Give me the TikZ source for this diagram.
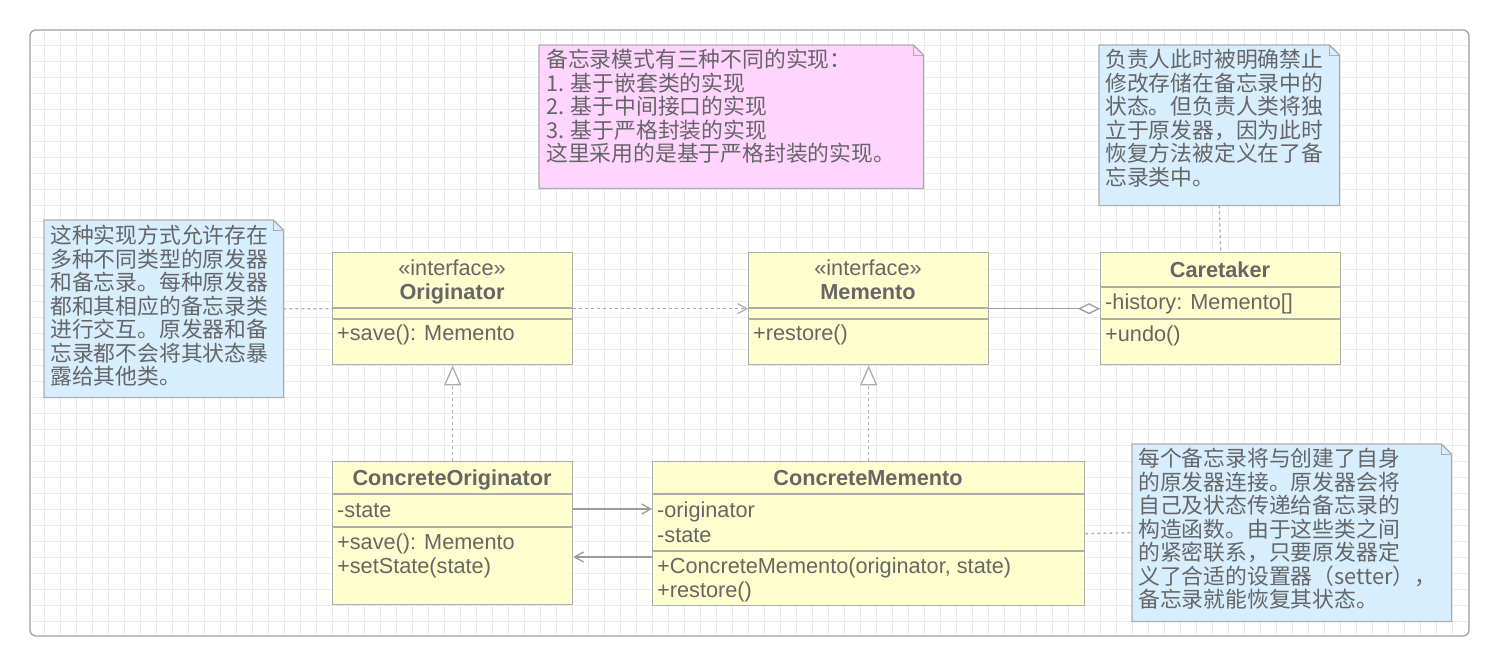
\documentclass[tikz,border=0pt]{standalone}
\usepackage{fontspec}
\setmainfont{Liberation Sans}
\newfontfamily\cjk{Noto Sans CJK SC}
\usetikzlibrary{arrows.meta,backgrounds}

\definecolor{boxfill}{HTML}{FEFECE}
\definecolor{boxline}{HTML}{ADADAD}
\definecolor{txt}{HTML}{666666}
\definecolor{noteblue}{HTML}{D7EEFF}
\definecolor{notepink}{HTML}{FFD5FF}
\definecolor{gridline}{HTML}{EBEBEB}
\definecolor{framegray}{HTML}{A0A0A0}

\begin{document}
\begin{tikzpicture}[x=1pt, y=-1pt,
  classbox/.style={rectangle, draw=boxline, fill=boxfill, line width=1.3pt, anchor=north west, inner sep=0pt},
  member/.style={anchor=west, text=txt, inner sep=0pt, text height=15.6pt, text depth=0pt, font=\fontsize{21.7}{24}\selectfont},
  stereo/.style={member, anchor=center},
  classname/.style={stereo, font=\bfseries\fontsize{21.7}{24}\selectfont},
  note/.style={rectangle, anchor=north west, inner sep=0pt},
  notetext/.style={anchor=north west, align=left, inner sep=0pt, text=txt, font=\cjk\fontsize{21.8}{23.5}\selectfont},
  dotline/.style={draw=boxline, line width=1.3pt, dash pattern=on 3pt off 3pt},
  solidline/.style={draw=boxline!90!black, line width=1.3pt},
  barb/.style={-{Straight Barb[length=9pt, width=10pt]}}
]
\useasboundingbox (0,0) rectangle (1499,667);

% notes
\node[note, minimum width=384, minimum height=143] (modesnote) at (539,45) {};
\node[notetext] (modestext) at ([xshift=7pt, yshift=-4pt]modesnote.north west)
  {备忘录模式有三种不同的实现：\\1. 基于嵌套类的实现\\2. 基于中间接口的实现\\3. 基于严格封装的实现\\这里采用的是基于严格封装的实现。};

\node[note, minimum width=240, minimum height=160] (caretakernote) at (1099,45) {};
\node[notetext] (caretakertext) at ([xshift=6pt, yshift=-4pt]caretakernote.north west)
  {负责人此时被明确禁止\\修改存储在备忘录中的\\状态。但负责人类将独\\立于原发器，因为此时\\恢复方法被定义在了备\\忘录类中。};

\node[note, minimum width=239, minimum height=177] (orignote) at (44,220) {};
\node[notetext] (origtext) at ([xshift=6pt, yshift=-5pt]orignote.north west)
  {这种实现方式允许存在\\多种不同类型的原发器\\和备忘录。每种原发器\\都和其相应的备忘录类\\进行交互。原发器和备\\忘录都不会将其状态暴\\露给其他类。};

\node[note, minimum width=319, minimum height=177] (memnote) at (1132,444) {};
\node[notetext] (memtext) at ([xshift=6pt, yshift=-4pt]memnote.north west)
  {每个备忘录将与创建了自身\\的原发器连接。原发器会将\\自己及状态传递给备忘录的\\构造函数。由于这些类之间\\的紧密联系，只要原发器定\\义了合适的设置器（setter），\\备忘录就能恢复其状态。};

% classes
\node[classbox, minimum width=240, minimum height=112] (originator) at (332,252) {};
\draw[boxline, line width=1.3pt] (originator.west |- 0,308) -- (originator.east |- 0,308);
\draw[boxline, line width=1.3pt] (originator.west |- 0,319) -- (originator.east |- 0,319);
\node[stereo] (orig stereo) at (452,268) {«interface»};
\node[classname] (orig name) at (452,292) {Originator};
\node[member] (orig save) at (337,333) {+save(): Memento};

\node[classbox, minimum width=240, minimum height=112] (memento) at (748,252) {};
\draw[boxline, line width=1.3pt] (memento.west |- 0,308) -- (memento.east |- 0,308);
\draw[boxline, line width=1.3pt] (memento.west |- 0,319) -- (memento.east |- 0,319);
\node[stereo] (mem stereo) at (868,268) {«interface»};
\node[classname] (mem name) at (868,292) {Memento};
\node[member] (mem restore) at (753,333) {+restore()};

\node[classbox, minimum width=240, minimum height=112] (caretaker) at (1100,252) {};
\draw[boxline, line width=1.3pt] (caretaker.west |- 0,287) -- (caretaker.east |- 0,287);
\draw[boxline, line width=1.3pt] (caretaker.west |- 0,319) -- (caretaker.east |- 0,319);
\node[classname] (care name) at (1220,270) {Caretaker};
\node[member] (care history) at (1105,302) {-history: Memento[]};
\node[member] (care undo) at (1105,334) {+undo()};

\node[classbox, minimum width=240, minimum height=143] (concorig) at (332,461) {};
\draw[boxline, line width=1.3pt] (concorig.west |- 0,494) -- (concorig.east |- 0,494);
\draw[boxline, line width=1.3pt] (concorig.west |- 0,527) -- (concorig.east |- 0,527);
\node[classname] (corig name) at (452,478) {ConcreteOriginator};
\node[member] (corig state) at (337,510) {-state};
\node[member] (corig save) at (337,542) {+save(): Memento};
\node[member] (corig set) at (337,566) {+setState(state)};

\node[classbox, minimum width=432, minimum height=144] (concmem) at (652,461) {};
\draw[boxline, line width=1.3pt] (concmem.west |- 0,494) -- (concmem.east |- 0,494);
\draw[boxline, line width=1.3pt] (concmem.west |- 0,551) -- (concmem.east |- 0,551);
\node[classname] (cmem name) at (868,478) {ConcreteMemento};
\node[member] (cmem orig) at (657,510) {-originator};
\node[member] (cmem state) at (657,535) {-state};
\node[member] (cmem ctor) at (657,566) {+ConcreteMemento(originator, state)};
\node[member] (cmem restore) at (657,590) {+restore()};

% connectors
\draw[dotline] (orignote.east) -- (originator.west);
\draw[dotline, barb] (originator.east) -- (memento.west);
\draw[solidline, -{Diamond[open, fill=white, length=22pt, width=11pt]}] (memento.east) -- (caretaker.west);
\draw[dotline] (caretakernote.south) -- (caretaker.north);
\draw[dotline, -{Triangle[open, fill=white, length=20pt, width=17pt]}] (concorig.north) -- (originator.south);
\draw[dotline, -{Triangle[open, fill=white, length=20pt, width=17pt]}] (concmem.north) -- (memento.south);
\draw[solidline, barb] (concorig.east |- 0,509) -- (concmem.west |- 0,509);
\draw[solidline, barb] (concmem.west |- 0,557) -- (concorig.east |- 0,557);
\draw[dotline] (concmem.east) -- (memnote.west);

\begin{scope}[on background layer]
\fill[white] (0,0) rectangle (1499,667);
\begin{scope}
\clip[rounded corners=6] (30,30) rectangle (1469,636);
\foreach \x in {44,60,...,1468}
  \draw[gridline, line width=1pt] (\x,30) -- (\x,636);
\foreach \y in {45,61,...,635}
  \draw[gridline, line width=1pt] (30,\y) -- (1469,\y);
\end{scope}
\draw[framegray, line width=1.3pt, rounded corners=6] (30,30) rectangle (1469,636);
\foreach \n/\c in {modesnote/notepink, caretakernote/noteblue, orignote/noteblue, memnote/noteblue} {
  \filldraw[fill=\c, draw=boxline, line width=1.3pt] (\n.north west) -- ([xshift=-10pt]\n.north east)
    -- ([yshift=-10pt]\n.north east) -- (\n.south east) -- (\n.south west) -- cycle;
  \draw[boxline, line width=1pt] ([xshift=-10pt]\n.north east) |- ([yshift=-10pt]\n.north east);
}
\end{scope}
\end{tikzpicture}
\end{document}
